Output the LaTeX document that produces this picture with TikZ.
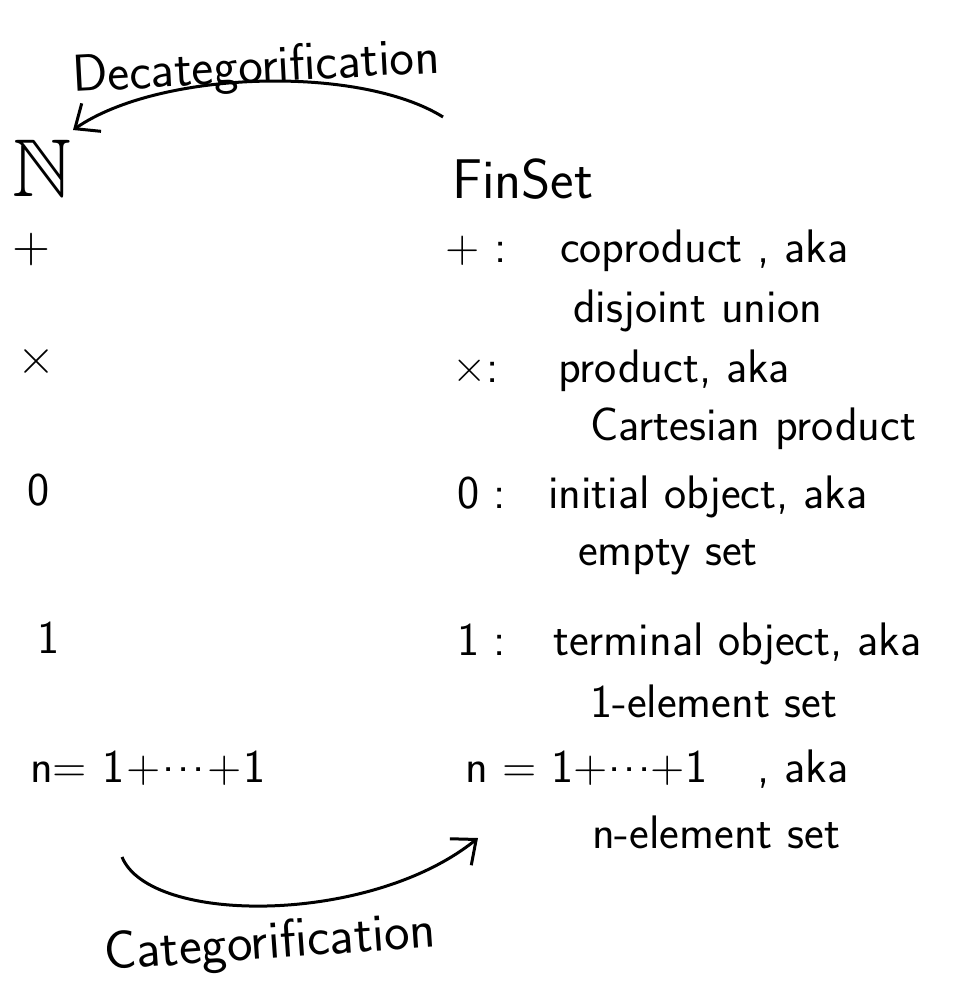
\documentclass[tikz,border=0pt]{standalone}
\usepackage{amssymb}
\usepackage{fontspec}
\usetikzlibrary{arrows.meta}

\newcommand{\dotsmid}{\raisebox{0.22em}{.\kern3pt.\kern3pt.}}

\tikzset{
  hand/.style={anchor=base west, inner sep=0pt, font=\sffamily\fontsize{47}{52}\selectfont},
  sym/.style={anchor=center, inner sep=0pt, font=\sffamily\fontsize{52}{56}\selectfont},
  bigarc/.style={line width=3pt, -{Straight Barb[length=20pt,width=34pt,line width=3pt]}}
}

\begin{document}
\begin{tikzpicture}[x=1pt,y=-1pt]
  \useasboundingbox (0,0) rectangle (964,1001);
  % left column: the numbers
  \node[hand, font=\fontsize{82}{86}\selectfont] (nat) at (12,196) {$\mathbb{N}$};
  \node[sym] (plusL) at (32,250) {+};
  \node[sym] (timesL) at (37,362) {×};
  \node[hand] (zeroL) at (27,505) {0};
  \node[hand] (oneL) at (37,653) {1};
  \node[hand] (sumL) at (30,782) {n= 1\kern2pt+\kern2pt\dotsmid\kern2pt+\kern2pt1};
  % right column: finite sets
  \node[hand, font=\sffamily\fontsize{56}{60}\selectfont] (finset) at (452,198) {FinSet};
  \node[hand] (plusR) at (445,262) {+ :};
  \node[hand] (coprod) at (560,262) {coproduct , aka};
  \node[hand] (disj) at (573,322) {disjoint union};
  \node[hand] (timesR) at (452,382) {×:};
  \node[hand] (prod) at (558,382) {product, aka};
  \node[hand] (cart) at (590,440) {Cartesian product};
  \node[hand] (zeroR) at (457,508) {0 :};
  \node[hand] (init) at (548,508) {initial object, aka};
  \node[hand] (empty) at (578,565) {empty set};
  \node[hand] (oneR) at (457,655) {1 :};
  \node[hand] (term) at (553,655) {terminal object, aka};
  \node[hand] (oneel) at (590,717) {1-element set};
  \node[hand] (sumR) at (465,782) {n = 1+\dotsmid+1\hspace{50pt}, aka};
  \node[hand] (nel) at (592,848) {n-element set};
  % the two arrows
  \coordinate (decatStart) at (443,117);
  \coordinate (decatEnd) at (73,130);
  \coordinate (catStart) at (122,857);
  \coordinate (catEnd) at (478,838);
  \draw[bigarc] (decatStart) .. controls (360,65) and (160,70) .. (decatEnd);
  \draw[bigarc] (catStart) .. controls (150,925) and (370,925) .. (catEnd);
  \node[hand, font=\sffamily\fontsize{52}{56}\selectfont, rotate=3] (decat) at (73,92) {Decategorification};
  \node[hand, font=\sffamily\fontsize{54}{58}\selectfont, rotate=4] (cat) at (105,970) {Categorification};
\end{tikzpicture}
\end{document}
